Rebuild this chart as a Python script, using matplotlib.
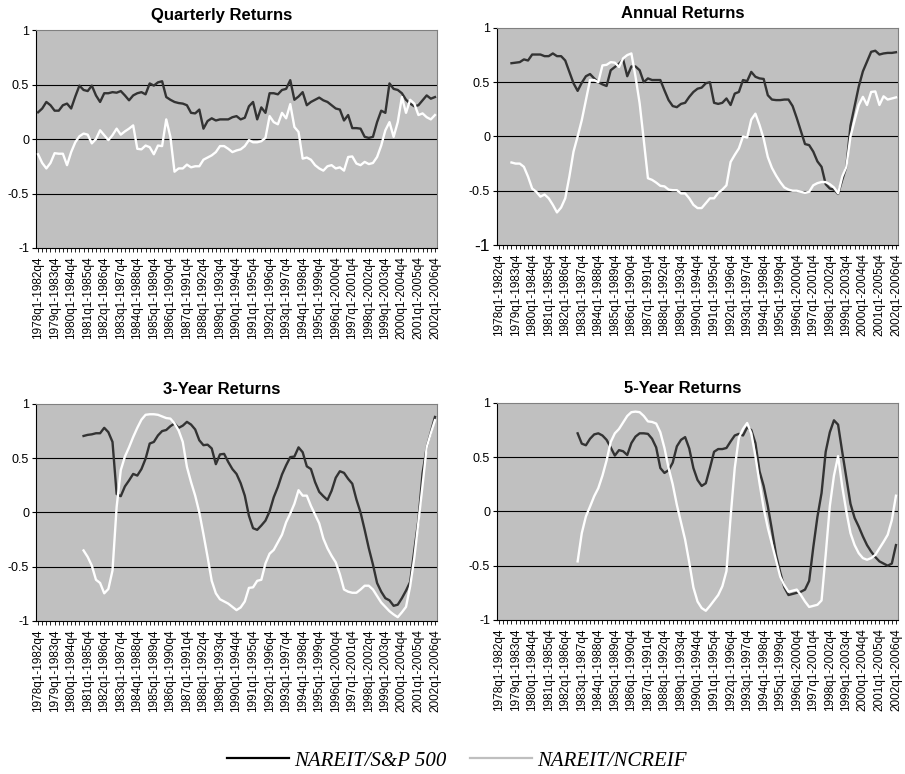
import numpy as np
import matplotlib
matplotlib.use('Agg')
import matplotlib.pyplot as plt
from matplotlib.lines import Line2D
from matplotlib.font_manager import FontProperties

plt.rcParams['font.family'] = ['Liberation Sans', 'DejaVu Sans']

# rolling 5-year windows, one point per quarter (97 points)
period_labels = ['1978q1-1982q4', '1979q1-1983q4', '1980q1-1984q4', '1981q1-1985q4',
                 '1982q1-1986q4', '1983q1-1987q4', '1984q1-1988q4', '1985q1-1989q4',
                 '1986q1-1990q4', '1987q1-1991q4', '1988q1-1992q4', '1989q1-1993q4',
                 '1990q1-1994q4', '1991q1-1995q4', '1992q1-1996q4', '1993q1-1997q4',
                 '1994q1-1998q4', '1995q1-1999q4', '1996q1-2000q4', '1997q1-2001q4',
                 '1998q1-2002q4', '1999q1-2003q4', '2000q1-2004q4', '2001q1-2005q4',
                 '2002q1-2006q4']
n_points = 97

# Quarterly returns
q_sp500 = [0.245, 0.28, 0.34, 0.31, 0.26, 0.26, 0.31, 0.325, 0.28, 0.39,
           0.49, 0.45, 0.44, 0.49, 0.40, 0.34, 0.42, 0.42, 0.43, 0.425,
           0.44, 0.40, 0.355, 0.40, 0.42, 0.43, 0.41, 0.51, 0.49, 0.52,
           0.53, 0.385, 0.36, 0.34, 0.33, 0.325, 0.31, 0.24, 0.235, 0.27,
           0.095, 0.165, 0.19, 0.17, 0.18, 0.18, 0.18, 0.20, 0.21, 0.18,
           0.195, 0.30, 0.34, 0.18, 0.29, 0.24, 0.42, 0.42, 0.41, 0.45,
           0.46, 0.54, 0.36, 0.39, 0.43, 0.31, 0.34, 0.36, 0.38, 0.355,
           0.34, 0.31, 0.28, 0.27, 0.17, 0.22, 0.10, 0.10, 0.095, 0.02,
           0.01, 0.02, 0.155, 0.26, 0.24, 0.51, 0.46, 0.45, 0.42, 0.36,
           0.325, 0.30, 0.31, 0.355, 0.40, 0.37, 0.385]
q_ncreif = [-0.14, -0.22, -0.27, -0.22, -0.13, -0.135, -0.135, -0.24, -0.12, -0.03,
            0.025, 0.05, 0.04, -0.04, 0.0, 0.08, 0.035, -0.01, 0.035, 0.095,
            0.04, 0.07, 0.095, 0.125, -0.09, -0.095, -0.06, -0.075, -0.14, -0.06,
            -0.065, 0.18, 0.02, -0.30, -0.27, -0.27, -0.235, -0.26, -0.25, -0.25,
            -0.19, -0.17, -0.15, -0.12, -0.065, -0.065, -0.09, -0.12, -0.105, -0.095,
            -0.065, -0.01, -0.03, -0.03, -0.02, 0.01, 0.21, 0.155, 0.135, 0.24,
            0.19, 0.32, 0.11, 0.065, -0.18, -0.17, -0.19, -0.24, -0.27, -0.29,
            -0.25, -0.24, -0.27, -0.26, -0.29, -0.165, -0.16, -0.225, -0.24, -0.21,
            -0.23, -0.22, -0.165, -0.06, 0.08, 0.155, 0.02, 0.155, 0.385, 0.24,
            0.36, 0.325, 0.22, 0.235, 0.20, 0.18, 0.22]

# Annual returns (start at 4th quarter of the window)
a_sp500 = [0.675, 0.68, 0.685, 0.71, 0.70, 0.755, 0.755, 0.755, 0.74, 0.74,
           0.765, 0.74, 0.74, 0.70, 0.595, 0.49, 0.42, 0.495, 0.555, 0.575,
           0.535, 0.50, 0.48, 0.465, 0.61, 0.64, 0.67, 0.71, 0.555, 0.645,
           0.645, 0.61, 0.50, 0.535, 0.52, 0.52, 0.52, 0.425, 0.335, 0.28,
           0.27, 0.30, 0.31, 0.365, 0.41, 0.44, 0.45, 0.49, 0.50, 0.31,
           0.30, 0.31, 0.35, 0.29, 0.395, 0.41, 0.52, 0.51, 0.595, 0.55,
           0.535, 0.53, 0.38, 0.34, 0.335, 0.335, 0.34, 0.34, 0.28, 0.17,
           0.05, -0.07, -0.08, -0.14, -0.23, -0.28, -0.44, -0.48, -0.49, -0.53,
           -0.40, -0.28, 0.10, 0.28, 0.46, 0.60, 0.69, 0.78, 0.79, 0.755,
           0.765, 0.77, 0.77, 0.776]
a_ncreif = [-0.24, -0.25, -0.25, -0.28, -0.37, -0.48, -0.51, -0.555, -0.535, -0.57,
            -0.63, -0.70, -0.655, -0.57, -0.37, -0.14, 0.0, 0.15, 0.335, 0.52,
            0.52, 0.50, 0.655, 0.66, 0.685, 0.68, 0.64, 0.72, 0.75, 0.765,
            0.55, 0.305, -0.035, -0.385, -0.40, -0.425, -0.455, -0.46, -0.49, -0.495,
            -0.495, -0.525, -0.525, -0.57, -0.63, -0.66, -0.66, -0.615, -0.57, -0.57,
            -0.52, -0.49, -0.45, -0.235, -0.17, -0.11, 0.0, -0.01, 0.155, 0.21,
            0.105, -0.02, -0.19, -0.29, -0.36, -0.42, -0.47, -0.49, -0.50, -0.50,
            -0.51, -0.52, -0.51, -0.45, -0.43, -0.42, -0.42, -0.44, -0.47, -0.525,
            -0.37, -0.28, 0.0, 0.15, 0.29, 0.365, 0.29, 0.41, 0.415, 0.29,
            0.37, 0.34, 0.35, 0.36]

# 3-year returns
y3_sp500 = [0.705, 0.715, 0.72, 0.73, 0.73, 0.78, 0.74, 0.65, 0.17, 0.15,
            0.24, 0.295, 0.355, 0.34, 0.40, 0.495, 0.635, 0.65, 0.71, 0.75,
            0.76, 0.795, 0.82, 0.78, 0.80, 0.835, 0.81, 0.765, 0.665, 0.62,
            0.625, 0.59, 0.445, 0.535, 0.54, 0.465, 0.40, 0.355, 0.27, 0.155,
            -0.03, -0.145, -0.16, -0.12, -0.075, 0.01, 0.14, 0.235, 0.35, 0.435,
            0.51, 0.515, 0.60, 0.555, 0.425, 0.40, 0.28, 0.19, 0.15, 0.115,
            0.20, 0.32, 0.38, 0.365, 0.31, 0.265, 0.12, 0.0, -0.16, -0.33,
            -0.48, -0.65, -0.73, -0.79, -0.81, -0.86, -0.85, -0.79, -0.72, -0.64,
            -0.35, -0.07, 0.36, 0.60, 0.74, 0.88]
y3_ncreif = [-0.35, -0.41, -0.49, -0.62, -0.65, -0.745, -0.705, -0.535, 0.05, 0.39,
             0.515, 0.60, 0.695, 0.78, 0.855, 0.90, 0.905, 0.905, 0.90, 0.885,
             0.87, 0.865, 0.82, 0.755, 0.65, 0.42, 0.28, 0.155, 0.0, -0.20,
             -0.41, -0.63, -0.745, -0.80, -0.82, -0.84, -0.87, -0.90, -0.875, -0.82,
             -0.695, -0.69, -0.63, -0.62, -0.47, -0.38, -0.345, -0.275, -0.205, -0.09,
             -0.01, 0.08, 0.205, 0.155, 0.155, 0.06, -0.02, -0.10, -0.24, -0.33,
             -0.40, -0.46, -0.57, -0.71, -0.73, -0.74, -0.74, -0.71, -0.675, -0.675,
             -0.71, -0.77, -0.83, -0.87, -0.91, -0.94, -0.965, -0.92, -0.87, -0.68,
             -0.42, -0.09, 0.25, 0.60, 0.73, 0.85]

# 5-year returns
y5_sp500 = [0.72, 0.625, 0.61, 0.67, 0.71, 0.72, 0.70, 0.66, 0.59, 0.515,
            0.565, 0.555, 0.52, 0.63, 0.69, 0.72, 0.72, 0.715, 0.67, 0.59,
            0.40, 0.355, 0.38, 0.45, 0.60, 0.66, 0.685, 0.58, 0.40, 0.29,
            0.235, 0.26, 0.40, 0.55, 0.575, 0.575, 0.585, 0.645, 0.70, 0.715,
            0.70, 0.775, 0.75, 0.63, 0.37, 0.235, 0.05, -0.17, -0.40, -0.56,
            -0.70, -0.77, -0.76, -0.75, -0.74, -0.72, -0.64, -0.33, -0.05, 0.17,
            0.55, 0.73, 0.84, 0.80, 0.55, 0.31, 0.07, -0.06, -0.14, -0.23,
            -0.31, -0.37, -0.42, -0.46, -0.48, -0.50, -0.48, -0.31]
y5_ncreif = [-0.46, -0.20, -0.045, 0.045, 0.14, 0.215, 0.33, 0.47, 0.64, 0.72,
             0.76, 0.82, 0.88, 0.915, 0.92, 0.915, 0.88, 0.83, 0.825, 0.81,
             0.73, 0.585, 0.40, 0.25, 0.06, -0.10, -0.26, -0.47, -0.70, -0.83,
             -0.89, -0.915, -0.87, -0.82, -0.77, -0.69, -0.55, -0.05, 0.40, 0.68,
             0.76, 0.815, 0.72, 0.51, 0.26, 0.03, -0.15, -0.30, -0.45, -0.60,
             -0.68, -0.74, -0.73, -0.72, -0.77, -0.83, -0.88, -0.87, -0.86, -0.82,
             -0.40, 0.05, 0.33, 0.51, 0.23, 0.0, -0.20, -0.31, -0.385, -0.43,
             -0.445, -0.43, -0.40, -0.34, -0.28, -0.215, -0.08, 0.145]

titles = ['Quarterly Returns', 'Annual Returns', '3-Year Returns', '5-Year Returns']
series = [(q_sp500, q_ncreif), (a_sp500, a_ncreif),
          (y3_sp500, y3_ncreif), (y5_sp500, y5_ncreif)]
legend_names = ['NAREIT/S&P 500', 'NAREIT/NCREIF']

fig = plt.figure(figsize=(9.05, 7.74), dpi=100)

# axes rectangles (left, bottom, width, height) in figure fraction
rects = [[0.0398, 0.6796, 0.4431, 0.2816],
         [0.5492, 0.6835, 0.4431, 0.2804],
         [0.0398, 0.1977, 0.4431, 0.2804],
         [0.5492, 0.1990, 0.4431, 0.2804]]

xticks = np.arange(n_points)
xlabels = ['' for _ in xticks]
for k, lab in enumerate(period_labels):
    xlabels[4 * k] = lab

for i in range(4):
    ax = fig.add_axes(rects[i])
    sp, nc = series[i]
    ax.set_facecolor('#c0c0c0')
    for v in (-0.5, 0, 0.5):
        ax.axhline(v, color='black', lw=0.8, zorder=1)
    ax.plot(np.arange(n_points - len(sp), n_points), sp, color='#333333', lw=1.7, zorder=3)
    ax.plot(np.arange(n_points - len(nc), n_points), nc, color='white', lw=1.7, zorder=3)
    ax.set_xlim(-0.5, n_points - 0.5)
    ax.set_ylim(-1, 1)
    ax.set_yticks([-1, -0.5, 0, 0.5, 1])
    ax.set_yticklabels(['-1', '-0.5', '0', '0.5', '1'])
    ax.set_xticks(xticks)
    ax.set_xticklabels(xlabels, rotation=90)
    ax.tick_params(axis='x', direction='out', length=3, width=0.6, pad=3, labelsize=8.5)
    ax.tick_params(axis='y', direction='out', length=3, width=0.8, pad=2, labelsize=9)
    for s in ['left', 'bottom']:
        ax.spines[s].set_color('black')
        ax.spines[s].set_linewidth(0.8)
    for s in ['top', 'right']:
        ax.spines[s].set_color('#808080')
        ax.spines[s].set_linewidth(0.8)
    ax.set_title(titles[i], fontsize=12, fontweight='bold', x=0.463, pad=7)
    if i == 1:
        ax.get_yticklabels()[0].set_fontsize(12.5)

handles = [Line2D([], [], color='black', lw=1.6),
           Line2D([], [], color='#bfbfbf', lw=1.6)]
fig.legend(handles, legend_names, loc='center', bbox_to_anchor=(0.505, 0.017),
           ncol=2, frameon=False,
           prop=FontProperties(family='Liberation Serif', style='italic', size=15),
           handlelength=3.0, handletextpad=0.25, columnspacing=1.1)

fig.savefig('out.png', dpi=100)
